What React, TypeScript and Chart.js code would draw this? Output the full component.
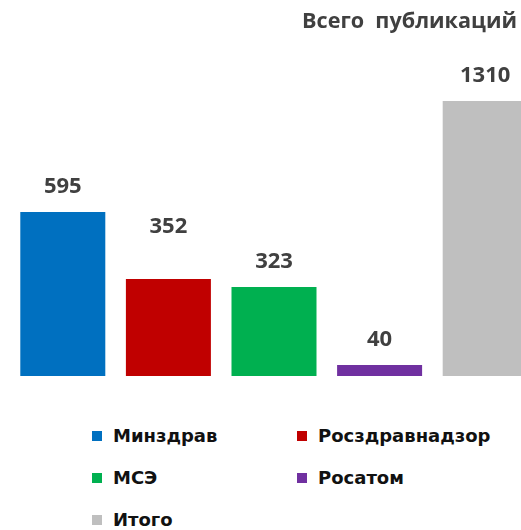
import React, { useEffect, useRef } from "react";
import { Chart, registerables } from "chart.js";

Chart.register(...registerables);

const categories = ["Минздрав", "Росздравнадзор", "МСЭ", "Росатом", "Итого"];
const seriesValues = [595, 352, 323, 40, 1310];
const seriesColors = ["#0070C0", "#C00000", "#00B050", "#7030A0", "#BFBFBF"];
const titleText = "Всего  публикаций";

const LABEL_FONT = "bold 22px 'Open Sans', sans-serif";

const dataLabelPlugin = {
  id: "dataLabels",
  afterDatasetsDraw(chart: any) {
    const ctx = chart.ctx;
    ctx.save();
    ctx.font = LABEL_FONT;
    ctx.fillStyle = "#404040";
    ctx.textAlign = "center";
    ctx.textBaseline = "alphabetic";
    chart.data.datasets.forEach((ds: any, di: number) => {
      const meta = chart.getDatasetMeta(di);
      meta.data.forEach((el: any, i: number) => {
        const v = ds.data[i];
        if (v === null || v === undefined) return;
        const extra = ds.labelLift || 0;
        ctx.fillText(String(v), el.x, el.y - 19 - extra);
      });
    });
    ctx.restore();
  },
};

export default function App() {
  const ref = useRef<HTMLCanvasElement | null>(null);

  useEffect(() => {
    if (!ref.current) return;
    const datasets = categories.map((name, i) => ({
      label: name,
      data: categories.map((_, j) => (j === i ? seriesValues[i] : null)),
      backgroundColor: seriesColors[i],
      borderWidth: 0,
      skipNull: true,
      categoryPercentage: 1,
      barPercentage: 0.805,
      yAxisID: i === categories.length - 1 ? "y2" : "y",
      labelLift: i === 1 ? 27 : 0,
    }));
    const chart = new Chart(ref.current, {
      type: "bar",
      data: { labels: categories, datasets: datasets as any },
      options: {
        animation: false,
        responsive: false,
        devicePixelRatio: 1,
        layout: { padding: { top: 37, bottom: 2, left: 2, right: 2 } },
        plugins: {
          legend: { display: false },
          title: { display: false },
          tooltip: { enabled: false },
        },
        scales: {
          x: { display: false, grid: { display: false } },
          y: { display: false, min: 0, max: 1200, grid: { display: false } },
          y2: { display: false, min: 0, max: 1577, position: "right", grid: { display: false } },
        },
      },
      plugins: [dataLabelPlugin],
    });
    return () => chart.destroy();
  }, []);

  return (
    <div>
      <div
        style={{
          position: "absolute",
          left: 8,
          top: 8,
          width: 513,
          height: 522,
          overflow: "hidden",
        }}
      >
        <canvas ref={ref} width={532} height={370} style={{ width: 532, height: 370, display: "block" }} />
      </div>
      <div
        style={{
          position: "absolute",
          right: 4,
          top: 5,
          lineHeight: "30px",
          font: "bold 21.6px 'Open Sans', sans-serif",
          color: "#404040",
          whiteSpace: "pre",
        }}
      >
        {titleText}
      </div>
      {categories.map((name, i) => (
        <div
          key={name}
          style={{
            position: "absolute",
            left: 92 + (i % 2) * 205,
            top: 425 + Math.floor(i / 2) * 42,
            height: 22,
            display: "flex",
            alignItems: "center",
            font: "bold 18px 'DejaVu Sans', sans-serif",
            lineHeight: "22px",
            color: "#111",
            whiteSpace: "nowrap",
          }}
        >
          <span style={{ display: "inline-block", width: 10, height: 10, background: seriesColors[i], marginRight: 11 }} />
          <span>{name}</span>
        </div>
      ))}
    </div>
  );
}
